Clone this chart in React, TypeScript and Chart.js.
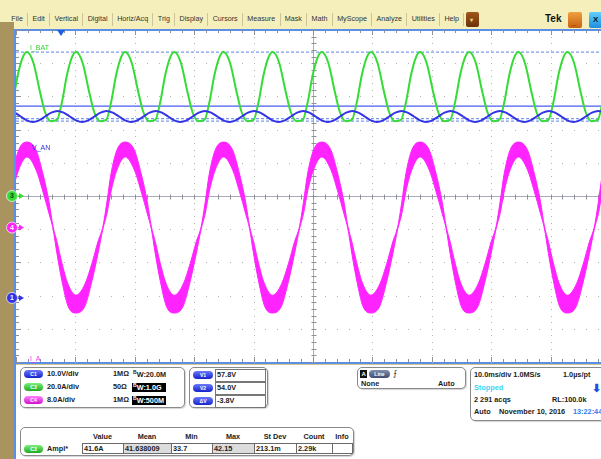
import React, { useEffect, useRef } from 'react';
import { Chart, registerables } from 'chart.js';
Chart.register(...registerables);

// ---- horizontal settings ----
const msPerDiv = 10;
const visibleDivs = 9.85;
const triggerMs = 7.58;

// ---- channel settings (C1, C3, C4) ----
const chIds = ['y1', 'y3', 'y4'];
const chNumbers = ['1', '3', '4'];
const chUnitsPerDiv = [10, 20, 8];
const chPositionDiv = [-3.07, 0, -0.95];
const chColors = ['#3434e6', '#36dc36', '#ff24ff'];

// ---- cursors / measurement levels ----
const cursorVolts = [57.8, 54.0];
const amplLevels = [86.7, 45.1];

// ---- C3 : I_BAT (A) ----
const greenT = [-1.38, -0.54, 0.30, 1.15,
  1.85, 2.94, 4.04, 4.88, 5.89, 6.90, 7.74, 8.58, 9.43,
  10.13, 11.22, 12.32, 13.16, 14.17, 15.18, 16.02, 16.86, 17.71,
  18.40, 19.49, 20.59, 21.43, 22.44, 23.45, 24.29, 25.13, 25.98,
  26.68, 27.77, 28.87, 29.71, 30.72, 31.73, 32.57, 33.41, 34.26,
  34.95, 36.04, 37.14, 37.98, 38.99, 40.00, 40.84, 41.68, 42.53,
  43.23, 44.32, 45.42, 46.26, 47.27, 48.28, 49.12, 49.96, 50.81,
  51.50, 52.59, 53.69, 54.53, 55.54, 56.55, 57.39, 58.23, 59.08,
  59.78, 60.87, 61.97, 62.81, 63.82, 64.83, 65.67, 66.51, 67.36,
  68.05, 69.14, 70.24, 71.08, 72.09, 73.10, 73.94, 74.78, 75.63,
  76.33, 77.42, 78.52, 79.36, 80.37, 81.38, 82.22, 83.06, 83.91,
  84.60, 85.69, 86.79, 87.63, 88.64, 89.65, 90.49, 91.33, 92.18,
  92.88, 93.97, 95.07, 95.91, 96.92, 97.93, 98.77, 99.61, 100.46,
  101.15];
const greenA = [45.8, 56.6, 72.9, 83.7,
  86.7, 80.1, 62.7, 50.6, 45.1, 45.8, 56.6, 72.9, 83.7,
  86.7, 80.1, 62.7, 50.6, 45.1, 45.8, 56.6, 72.9, 83.7,
  86.7, 80.1, 62.7, 50.6, 45.1, 45.8, 56.6, 72.9, 83.7,
  86.7, 80.1, 62.7, 50.6, 45.1, 45.8, 56.6, 72.9, 83.7,
  86.7, 80.1, 62.7, 50.6, 45.1, 45.8, 56.6, 72.9, 83.7,
  86.7, 80.1, 62.7, 50.6, 45.1, 45.8, 56.6, 72.9, 83.7,
  86.7, 80.1, 62.7, 50.6, 45.1, 45.8, 56.6, 72.9, 83.7,
  86.7, 80.1, 62.7, 50.6, 45.1, 45.8, 56.6, 72.9, 83.7,
  86.7, 80.1, 62.7, 50.6, 45.1, 45.8, 56.6, 72.9, 83.7,
  86.7, 80.1, 62.7, 50.6, 45.1, 45.8, 56.6, 72.9, 83.7,
  86.7, 80.1, 62.7, 50.6, 45.1, 45.8, 56.6, 72.9, 83.7,
  86.7, 80.1, 62.7, 50.6, 45.1, 45.8, 56.6, 72.9, 83.7,
  86.7];

// ---- C1 : bus voltage (V) ----
const blueT = [-5.43, -4.40, -3.36, -2.33, -1.29, -0.26, 0.78, 1.81,
  2.85, 3.88, 4.92, 5.95, 6.99, 8.02, 9.06, 10.09,
  11.13, 12.16, 13.20, 14.23, 15.27, 16.30, 17.34, 18.37,
  19.40, 20.43, 21.47, 22.50, 23.54, 24.57, 25.61, 26.64,
  27.68, 28.71, 29.75, 30.78, 31.82, 32.85, 33.89, 34.92,
  35.95, 36.98, 38.02, 39.05, 40.09, 41.12, 42.16, 43.19,
  44.23, 45.26, 46.30, 47.33, 48.37, 49.40, 50.44, 51.47,
  52.50, 53.53, 54.57, 55.60, 56.64, 57.67, 58.71, 59.74,
  60.78, 61.81, 62.85, 63.88, 64.92, 65.95, 66.99, 68.02,
  69.05, 70.08, 71.12, 72.15, 73.19, 74.22, 75.26, 76.29,
  77.33, 78.36, 79.40, 80.43, 81.47, 82.50, 83.54, 84.57,
  85.60, 86.63, 87.67, 88.70, 89.74, 90.77, 91.81, 92.84,
  93.88, 94.91, 95.95, 96.98, 98.02, 99.05, 100.09, 101.12];
const blueV = [53.0, 53.5, 54.65, 55.8, 56.3, 55.8, 54.65, 53.5,
  53.0, 53.5, 54.65, 55.8, 56.3, 55.8, 54.65, 53.5,
  53.0, 53.5, 54.65, 55.8, 56.3, 55.8, 54.65, 53.5,
  53.0, 53.5, 54.65, 55.8, 56.3, 55.8, 54.65, 53.5,
  53.0, 53.5, 54.65, 55.8, 56.3, 55.8, 54.65, 53.5,
  53.0, 53.5, 54.65, 55.8, 56.3, 55.8, 54.65, 53.5,
  53.0, 53.5, 54.65, 55.8, 56.3, 55.8, 54.65, 53.5,
  53.0, 53.5, 54.65, 55.8, 56.3, 55.8, 54.65, 53.5,
  53.0, 53.5, 54.65, 55.8, 56.3, 55.8, 54.65, 53.5,
  53.0, 53.5, 54.65, 55.8, 56.3, 55.8, 54.65, 53.5,
  53.0, 53.5, 54.65, 55.8, 56.3, 55.8, 54.65, 53.5,
  53.0, 53.5, 54.65, 55.8, 56.3, 55.8, 54.65, 53.5,
  53.0, 53.5, 54.65, 55.8, 56.3, 55.8, 54.65, 53.5];

// ---- C4 : I_A (A), upper / lower edge of the ripple band ----
const magT = [-6.45, -4.94, -3.76, -2.75, -1.91, -1.23, -0.56, 0.45,
  1.85, 3.37, 4.54, 5.55, 6.23, 6.90, 7.74, 8.75, 10.10, 11.61, 12.79, 13.80, 14.64, 15.32, 15.99, 17.00,
  18.40, 19.92, 21.09, 22.10, 22.78, 23.45, 24.29, 25.30, 26.65, 28.16, 29.34, 30.35, 31.19, 31.87, 32.54, 33.55,
  34.95, 36.47, 37.64, 38.65, 39.33, 40.00, 40.84, 41.85, 43.20, 44.71, 45.89, 46.90, 47.74, 48.42, 49.09, 50.10,
  51.50, 53.02, 54.19, 55.20, 55.88, 56.55, 57.39, 58.40, 59.75, 61.26, 62.44, 63.45, 64.29, 64.97, 65.64, 66.65,
  68.05, 69.57, 70.74, 71.75, 72.43, 73.10, 73.94, 74.95, 76.30, 77.81, 78.99, 80.00, 80.84, 81.52, 82.19, 83.20,
  84.60, 86.12, 87.29, 88.30, 88.98, 89.65, 90.49, 91.50, 92.85, 94.36, 95.54, 96.55, 97.39, 98.07, 98.74, 99.75,
  101.15];
const magHi = [-16.3, -13.6, -8.6, -3.4, 0.3, 6.3, 12.9, 18.7,
  20.6, 18.7, 12.9, 6.3, 0.3, -3.4, -8.6, -13.6, -16.3, -13.6, -8.6, -3.4, 0.3, 6.3, 12.9, 18.7,
  20.6, 18.7, 12.9, 6.3, 0.3, -3.4, -8.6, -13.6, -16.3, -13.6, -8.6, -3.4, 0.3, 6.3, 12.9, 18.7,
  20.6, 18.7, 12.9, 6.3, 0.3, -3.4, -8.6, -13.6, -16.3, -13.6, -8.6, -3.4, 0.3, 6.3, 12.9, 18.7,
  20.6, 18.7, 12.9, 6.3, 0.3, -3.4, -8.6, -13.6, -16.3, -13.6, -8.6, -3.4, 0.3, 6.3, 12.9, 18.7,
  20.6, 18.7, 12.9, 6.3, 0.3, -3.4, -8.6, -13.6, -16.3, -13.6, -8.6, -3.4, 0.3, 6.3, 12.9, 18.7,
  20.6, 18.7, 12.9, 6.3, 0.3, -3.4, -8.6, -13.6, -16.3, -13.6, -8.6, -3.4, 0.3, 6.3, 12.9, 18.7,
  20.6];
const magLo = [-20.6, -18.9, -12.9, -6.3, -0.3, 3.4, 8.6, 13.9,
  17.0, 13.9, 8.6, 3.4, -0.3, -6.3, -12.9, -18.9, -20.6, -18.9, -12.9, -6.3, -0.3, 3.4, 8.6, 13.9,
  17.0, 13.9, 8.6, 3.4, -0.3, -6.3, -12.9, -18.9, -20.6, -18.9, -12.9, -6.3, -0.3, 3.4, 8.6, 13.9,
  17.0, 13.9, 8.6, 3.4, -0.3, -6.3, -12.9, -18.9, -20.6, -18.9, -12.9, -6.3, -0.3, 3.4, 8.6, 13.9,
  17.0, 13.9, 8.6, 3.4, -0.3, -6.3, -12.9, -18.9, -20.6, -18.9, -12.9, -6.3, -0.3, 3.4, 8.6, 13.9,
  17.0, 13.9, 8.6, 3.4, -0.3, -6.3, -12.9, -18.9, -20.6, -18.9, -12.9, -6.3, -0.3, 3.4, 8.6, 13.9,
  17.0, 13.9, 8.6, 3.4, -0.3, -6.3, -12.9, -18.9, -20.6, -18.9, -12.9, -6.3, -0.3, 3.4, 8.6, 13.9,
  17.0];

// ---- readout texts ----
const menuItems = ['File', 'Edit', 'Vertical', 'Digital', 'Horiz/Acq', 'Trig', 'Display', 'Cursors', 'Measure', 'Mask', 'Math', 'MyScope', 'Analyze', 'Utilities', 'Help'];
const chScaleText = ['10.0V/div', '20.0A/div', '8.0A/div'];
const chImpText = ['1MΩ', '50Ω', '1MΩ'];
const chBwText = ['20.0M', '1.0G', '500M'];
const cursorLabels = ['V1', 'V2', 'ΔV'];
const cursorTexts = ['57.8V', '54.0V', '-3.8V'];
const measHeaders = ['Value', 'Mean', 'Min', 'Max', 'St Dev', 'Count', 'Info'];
const measValues = ['41.6A', '41.638009', '33.7', '42.15', '213.1m', '2.29k', ''];

const FONT = '"Liberation Sans", Arial, sans-serif';

const pts = (xs: number[], ys: number[]) => xs.map((x, i) => ({ x, y: ys[i] }));
const xEnd = msPerDiv * visibleDivs;

const graticule = {
  id: 'graticule',
  beforeDatasetsDraw(chart: any) {
    const { ctx, chartArea: a, scales } = chart;
    const xs = scales.x, ys = scales.yDiv;
    const xMax = xs.max;
    ctx.save();
    ctx.fillStyle = '#b2b2b2';
    for (let d = -4; d <= 4; d++) {
      if (d === 0) continue;
      const y = Math.round(ys.getPixelForValue(d));
      for (let t = 0; t <= xMax; t += msPerDiv / 5) {
        ctx.fillRect(Math.round(xs.getPixelForValue(t)), y, 1, 1);
      }
    }
    for (let t = msPerDiv; t < xMax; t += msPerDiv) {
      if (Math.abs(t - 5 * msPerDiv) < 1e-6) continue;
      const x = Math.round(xs.getPixelForValue(t));
      for (let k = -25; k <= 25; k++) {
        ctx.fillRect(x, Math.round(ys.getPixelForValue(k / 5)), 1, 1);
      }
    }
    const cx = Math.round(xs.getPixelForValue(5 * msPerDiv)) + 0.5;
    const cy = Math.round(ys.getPixelForValue(0)) + 0.5;
    ctx.strokeStyle = '#a9abb8';
    ctx.lineWidth = 1;
    ctx.beginPath();
    ctx.moveTo(a.left, cy); ctx.lineTo(a.right, cy);
    ctx.moveTo(cx, a.top); ctx.lineTo(cx, a.bottom);
    ctx.stroke();
    ctx.strokeStyle = '#8e909c';
    ctx.beginPath();
    for (let t = 0; t <= xMax; t += msPerDiv / 5) {
      const x = Math.round(xs.getPixelForValue(t)) + 0.5;
      ctx.moveTo(x, cy - 2); ctx.lineTo(x, cy + 3);
      const big = Math.abs(t / msPerDiv - Math.round(t / msPerDiv)) < 1e-6;
      ctx.moveTo(x, a.top); ctx.lineTo(x, a.top + (big ? 5 : 3));
      ctx.moveTo(x, a.bottom); ctx.lineTo(x, a.bottom - (big ? 5 : 3));
    }
    for (let k = -25; k <= 25; k++) {
      const y = Math.round(ys.getPixelForValue(k / 5)) + 0.5;
      ctx.moveTo(cx - 2, y); ctx.lineTo(cx + 3, y);
      const big = k % 5 === 0;
      ctx.moveTo(a.left, y); ctx.lineTo(a.left + (big ? 5 : 3), y);
    }
    ctx.stroke();
    ctx.restore();
  },
};

const frame = {
  id: 'frame',
  afterDraw(chart: any) {
    const { ctx, chartArea: a, scales } = chart;
    ctx.save();
    const tx = scales.x.getPixelForValue(triggerMs);
    ctx.fillStyle = '#1f5fe0';
    ctx.beginPath();
    ctx.moveTo(tx - 4, a.top); ctx.lineTo(tx + 4, a.top); ctx.lineTo(tx, a.top + 6);
    ctx.closePath(); ctx.fill();
    for (let i = 0; i < chIds.length; i++) {
      const y = scales[chIds[i]].getPixelForValue(0);
      const col = chColors[i];
      ctx.fillStyle = col;
      ctx.beginPath();
      ctx.moveTo(19, y - 3); ctx.lineTo(24, y); ctx.lineTo(19, y + 3); ctx.closePath(); ctx.fill();
      ctx.fillRect(17, y - 0.5, 3, 1.5);
      ctx.beginPath();
      ctx.arc(12, y, 5.5, 0, Math.PI * 2);
      ctx.fill();
      ctx.strokeStyle = 'rgba(255,255,255,0.7)';
      ctx.lineWidth = 1;
      ctx.stroke();
      ctx.fillStyle = chNumbers[i] === '3' ? '#0d3a0d' : '#ffffff';
      ctx.font = 'bold 7px ' + FONT;
      ctx.textAlign = 'center';
      ctx.textBaseline = 'middle';
      ctx.fillText(chNumbers[i], 12, y + 0.5);
    }
    ctx.restore();
  },
};

function Txt({ x, y, c = '#1c1c1c', s = 7.3, w = 700, children, style }: any) {
  return (
    <div style={{ position: 'absolute', left: x, top: y, transform: 'translateY(-50%)', fontFamily: FONT, fontSize: s, fontWeight: w, color: c, whiteSpace: 'nowrap', lineHeight: 1, ...style }}>{children}</div>
  );
}
function Box({ x, y, w, h }: any) {
  return <div style={{ position: 'absolute', left: x, top: y, width: w, height: h, border: '1px solid #8a8a8a', borderRadius: 5, boxSizing: 'border-box', boxShadow: '1px 1px 1px #d4d4d4', background: '#fff' }} />;
}
function Pill({ x, y, w = 19, c1, c2, label }: any) {
  return (
    <div style={{ position: 'absolute', left: x, top: y - 4, width: w, height: 8, borderRadius: 4, background: `linear-gradient(${c1}, ${c2})`, color: '#fff', fontFamily: FONT, fontSize: 5, fontWeight: 700, lineHeight: '8px', textAlign: 'center' }}>{label}</div>
  );
}
function Rect({ x, y, w, h, bg, border, style }: any) {
  return <div style={{ position: 'absolute', left: x, top: y, width: w, height: h, background: bg, border, boxSizing: 'border-box', ...style }} />;
}

const pillCols = [['#6c78ff', '#1424c8'], ['#7cf07c', '#1eaa1e'], ['#ff80ff', '#d010d0']];

export default function App() {
  const ref = useRef<HTMLCanvasElement>(null);
  useEffect(() => {
    document.body.style.margin = '0';
    const axis = (i: number) => ({
      type: 'linear' as const,
      display: false,
      min: (-5 - chPositionDiv[i]) * chUnitsPerDiv[i],
      max: (5 - chPositionDiv[i]) * chUnitsPerDiv[i],
    });
    const level = (v: number, id: string, color: string, dash: number[], width: number) => ({
      data: [{ x: 0, y: v }, { x: xEnd, y: v }],
      yAxisID: id, borderColor: color, borderDash: dash, borderWidth: width,
      pointRadius: 0, fill: false,
    });
    const chart = new Chart(ref.current as HTMLCanvasElement, {
      type: 'line',
      data: {
        datasets: [
          { data: pts(blueT, blueV), yAxisID: 'y1', borderColor: chColors[0], borderWidth: 2, pointRadius: 0, cubicInterpolationMode: 'monotone', fill: false },
          { data: pts(greenT, greenA), yAxisID: 'y3', borderColor: chColors[1], borderWidth: 2, pointRadius: 0, cubicInterpolationMode: 'monotone', fill: false },
          level(cursorVolts[0], 'y1', '#4a5cf0', [], 1.2),
          level(cursorVolts[1], 'y1', '#7c9cee', [3, 2], 1.3),
          level(amplLevels[0], 'y3', '#7c9cee', [3, 2], 1.3),
          level(amplLevels[1], 'y3', '#7c9cee', [3, 2], 1.3),
          { data: pts(magT, magLo), yAxisID: 'y4', borderColor: chColors[2], borderWidth: 1, pointRadius: 0, cubicInterpolationMode: 'monotone', fill: false },
          { data: pts(magT, magHi), yAxisID: 'y4', borderColor: chColors[2], borderWidth: 1, pointRadius: 0, cubicInterpolationMode: 'monotone', fill: '-1', backgroundColor: chColors[2] },
        ] as any,
      },
      options: {
        animation: false,
        responsive: false,
        maintainAspectRatio: false,
        events: [],
        layout: { padding: { left: 16, top: 30, right: 0, bottom: 97 } },
        plugins: { legend: { display: false }, tooltip: { enabled: false } },
        scales: {
          x: { type: 'linear', display: false, min: 0, max: xEnd },
          yDiv: { type: 'linear', display: false, min: -5, max: 5 },
          y1: axis(0),
          y3: axis(1),
          y4: axis(2),
        },
      } as any,
      plugins: [graticule, frame],
    });
    return () => chart.destroy();
  }, []);

  const measX = [82, 123, 171, 212, 254, 296, 332, 352];
  const cellW = (i: number) => measX[i + 1] - measX[i];

  return (
    <div style={{ position: 'relative', width: 601, height: 459, overflow: 'hidden', background: '#fff' }}>
      {/* menu bar */}
      <Rect x={0} y={0} w={601} h={29} bg="#f5efbb" />
      <div style={{ position: 'absolute', left: 7, top: 12, height: 15, display: 'flex', alignItems: 'center' }}>
        {menuItems.map((m) => (
          <div key={m} style={{ padding: '0 4.35px', height: 13, lineHeight: '13px', borderRight: '1px solid #cdc49a', fontFamily: FONT, fontSize: 7.15, color: '#333', whiteSpace: 'nowrap' }}>{m}</div>
        ))}
      </div>
      <Rect x={466} y={12} w={13} h={15} bg="linear-gradient(#a0581a,#6a3208)" style={{ borderRadius: 2 }} />
      <Txt x={470} y={19.5} c="#f0d070" s={6} w={700}>▾</Txt>
      <Txt x={545} y={19} c="#111" s={10} w={700}>Tek</Txt>
      <Rect x={568} y={12} w={14} h={16} bg="linear-gradient(#f0a040,#c86010)" style={{ borderRadius: 2 }} />
      <Txt x={572} y={22} c="#3a1a00" s={7} w={700}>_</Txt>
      <Rect x={589} y={12} w={14} h={16} bg="linear-gradient(#60d0ff,#1c8ee0)" style={{ borderRadius: 2 }} />
      <Txt x={593} y={20} c="#0a1a30" s={8} w={700}>X</Txt>

      {/* left strip and frame */}
      <Rect x={0} y={22} w={14} h={437} bg="#a9935e" />
      <Rect x={14} y={29} w={2} h={430} bg="#5b8ee6" />
      <Rect x={14} y={29} w={587} h={1.5} bg="#5b8ee6" />
      <Rect x={14} y={361.5} w={587} h={2} bg="#5b8ee6" />
      <Rect x={16} y={363.5} w={585} h={1} bg="#d6c68e" />

      {/* channel box */}
      <Box x={20} y={367} w={165} h={41} />
      {chScaleText.map((t, i) => {
        const y = 374 + i * 13;
        return (
          <React.Fragment key={t}>
            <Pill x={24} y={y} c1={pillCols[i][0]} c2={pillCols[i][1]} label={'C' + chNumbers[i]} />
            <Txt x={47} y={y}>{t}</Txt>
            <Txt x={113} y={y}>{chImpText[i]}</Txt>
            {i === 0 ? (
              <Txt x={133} y={y}><span style={{ fontSize: 5, verticalAlign: 3 }}>B</span>W:{chBwText[i]}</Txt>
            ) : (
              <>
                <Rect x={132} y={y - 4.5} w={34} h={9} bg="#000" />
                <Txt x={133} y={y} c="#fff"><span style={{ fontSize: 5, verticalAlign: 3 }}>B</span>W:{chBwText[i]}</Txt>
              </>
            )}
          </React.Fragment>
        );
      })}

      {/* cursor box */}
      <Box x={189} y={367} w={79} h={41} />
      {cursorLabels.map((l, i) => {
        const y = 374.5 + i * 13;
        return (
          <React.Fragment key={l}>
            <Pill x={193} y={y} w={20} c1="#6c78ff" c2="#1424c8" label={l} />
            <Rect x={215} y={y - 6} w={51} h={13} border="1px solid #777" />
            <Txt x={217} y={y}>{cursorTexts[i]}</Txt>
          </React.Fragment>
        );
      })}

      {/* trigger box */}
      <Box x={357} y={367} w={109} h={22} />
      <Rect x={360} y={369.5} w={7} h={8} bg="#111" />
      <Txt x={361.5} y={374} c="#fff" s={6}>A</Txt>
      <Pill x={369} y={373.5} w={21} c1="#8090b0" c2="#404a70" label="Line" />
      <Txt x={393} y={373.5} s={8} w={400}>⨍</Txt>
      <Txt x={361} y={384}>None</Txt>
      <Txt x={438} y={384}>Auto</Txt>

      {/* horizontal box */}
      <Box x={470} y={367} w={140} h={54} />
      <Txt x={474} y={375}>10.0ms/div 1.0MS/s</Txt>
      <Txt x={563} y={375}>1.0µs/pt</Txt>
      <Txt x={474} y={387.5} c="#3ad6f2">Stopped</Txt>
      <Txt x={592} y={388} c="#1b4fe0" s={11}>⬇</Txt>
      <Txt x={474} y={400}>2 291 acqs</Txt>
      <Txt x={552} y={400}>RL:100.0k</Txt>
      <Txt x={474} y={412}>Auto</Txt>
      <Txt x={499} y={412}>November 10, 2016</Txt>
      <Txt x={573} y={412} c="#2a7ff0">13:22:44</Txt>

      {/* measurement box */}
      <Box x={20} y={427} w={334} h={29} />
      {measHeaders.map((h, i) => (
        <Txt key={h} x={measX[i] + cellW(i) / 2} y={437} style={{ transform: 'translate(-50%,-50%)' }}>{h}</Txt>
      ))}
      <Pill x={24} y={448.5} c1={pillCols[1][0]} c2={pillCols[1][1]} label="C3" />
      <Txt x={47} y={448.5}>Ampl*</Txt>
      {measValues.map((v, i) => (
        <React.Fragment key={i}>
          <Rect x={measX[i]} y={443} w={cellW(i) + 1} h={11} border="1px solid #6a6a6a" bg={i === 1 || i === 3 ? '#dcdcdc' : '#fff'} />
          <Txt x={measX[i] + 2} y={448.5}>{v}</Txt>
        </React.Fragment>
      ))}

      <canvas ref={ref} width={601} height={459} style={{ position: 'absolute', left: 0, top: 0, width: 601, height: 459 }} />

      {/* trace labels */}
      <Txt x={30} y={47} c="#2ed42e" s={7} w={400}>I_BAT</Txt>
      <Txt x={32} y={147} c="#3030e0" s={7} w={400}>V_AN</Txt>
      <Txt x={30} y={358} c="#ff30ff" s={7} w={400}>I_A</Txt>
    </div>
  );
}
